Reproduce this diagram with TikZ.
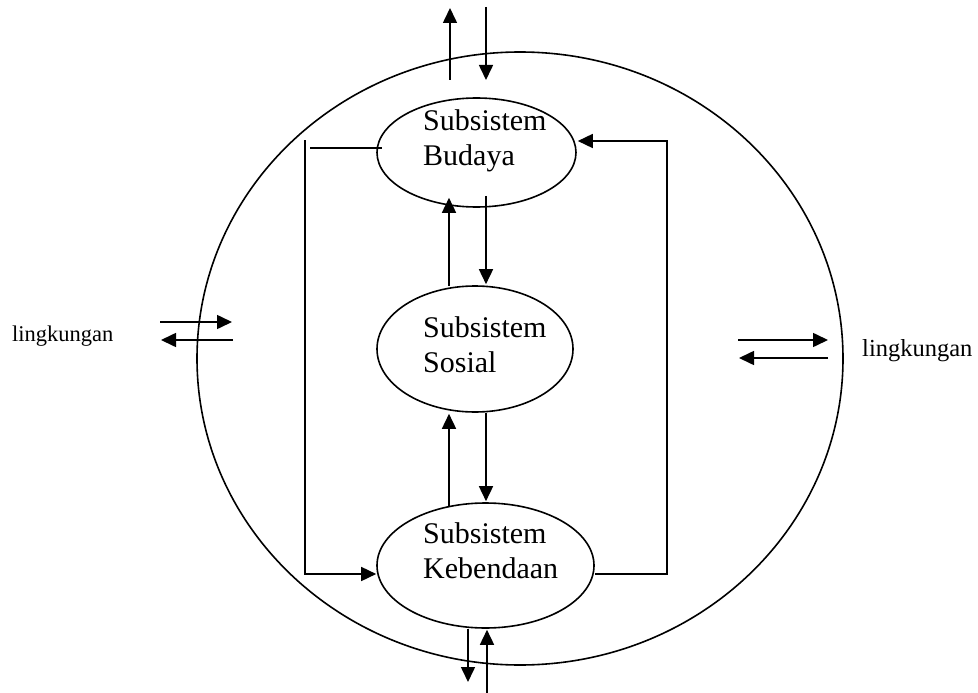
\documentclass[tikz,border=0pt]{standalone}
\usepackage{fontspec}
\setmainfont{Liberation Serif}
\usetikzlibrary{shapes.geometric,arrows.meta,calc}
\begin{document}
\begin{tikzpicture}[x=1pt,y=-1pt,
  line/.style={line width=1.6pt},
  arr/.style={line width=1.6pt, -{Triangle[length=15pt,width=14pt]}},
  oval/.style={draw, line width=1.6pt, ellipse, inner sep=0pt},
  lbl/.style={anchor=base west, align=left, inner sep=0pt, font=\fontsize{30}{35.5}\selectfont},
  env/.style={anchor=base west, inner sep=0pt}]
\useasboundingbox (0,0) rectangle (978,693);
% outer boundary
\node[oval, minimum width=646pt, minimum height=613pt] (O) at (520,358.5) {};
% subsystems
\node[oval, minimum width=199pt, minimum height=109pt] (B) at (476.5,152.5) {};
\node[oval, minimum width=196pt, minimum height=126pt] (S) at (475,349) {};
\node[oval, minimum width=217pt, minimum height=125pt] (K) at (485.5,565.5) {};
\node[lbl] (tB) at (423,165.5) {Subsistem\\Budaya};
\node[lbl] (tS) at (423,372.5) {Subsistem\\Sosial};
\node[lbl] (tK) at (423,578.5) {Subsistem\\Kebendaan};
% environment labels
\node[env, font=\fontsize{22.5}{27}\selectfont] (L1) at (12,341) {lingkungan};
\node[env, font=\fontsize{24.5}{29}\selectfont] (L2) at (862,356) {lingkungan};
% top exchange
\coordinate (tu1) at (450,80); \coordinate (tu2) at (450,8);
\coordinate (td1) at (486,7);  \coordinate (td2) at (486,80);
\draw[arr] (tu1) -- (tu2);
\draw[arr] (td1) -- (td2);
% budaya <-> sosial
\draw[arr] ($(S.north)+(-26,1)$) -- ($(B.south)+(-27.5,-10)$);
\draw[arr] ($(B.south)+(9.5,-12)$) -- ($(S.north)+(11,-1)$);
% sosial <-> kebendaan
\draw[arr] ($(K.north)+(-36.5,4)$) -- ($(S.south)+(-26,1)$);
\draw[arr] ($(S.south)+(11,0)$) -- ($(K.north)+(0.5,-1)$);
% left frame
\coordinate (lf) at (305,140);
\draw[arr] (lf) |- ($(K.west)+(0,8.5)$);
\coordinate (lh) at (310,148);
\draw[line] (lh) -- ($(B.west)+(6,-4.5)$);
% right frame
\coordinate (rf) at (667,141);
\draw[arr] ($(K.east)+(0,8.5)$) -| (rf) -- ($(B.east)+(1,-11.5)$);
% bottom exchange
\coordinate (bd) at (468,682);
\coordinate (bu) at (487,693);
\draw[arr] ($(K.south)+(-17.5,0)$) -- (bd);
\draw[arr] (bu) -- ($(K.south)+(1.5,1)$);
% left exchange
\coordinate (la1) at (160,322); \coordinate (la2) at (232,322);
\coordinate (la3) at (233,340); \coordinate (la4) at (161,340);
\draw[arr] (la1) -- (la2);
\draw[arr] (la3) -- (la4);
% right exchange
\coordinate (ra1) at (738,340); \coordinate (ra2) at (828,340);
\coordinate (ra3) at (828,358); \coordinate (ra4) at (739,358);
\draw[arr] (ra1) -- (ra2);
\draw[arr] (ra3) -- (ra4);
\end{tikzpicture}
\end{document}
